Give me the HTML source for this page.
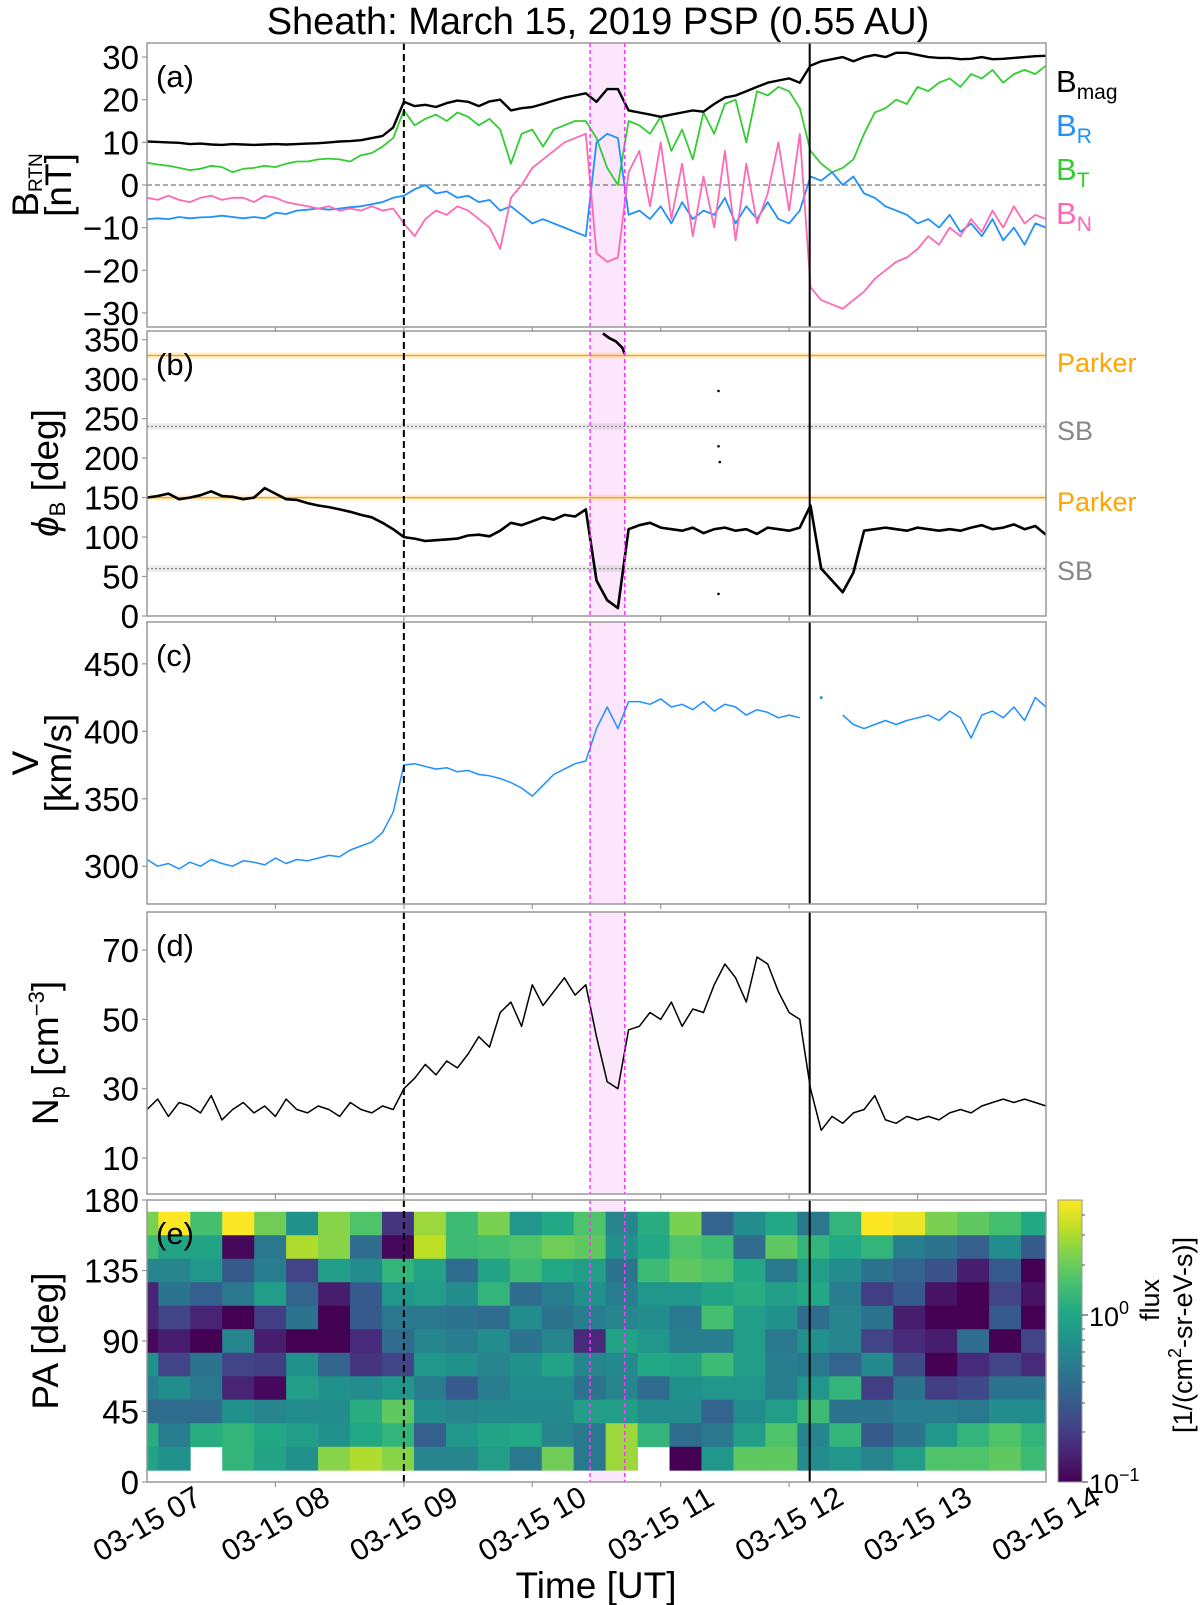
<!DOCTYPE html>
<html><head><meta charset="utf-8"><title>Sheath March 15 2019 PSP</title>
<style>
html,body{margin:0;padding:0;background:#fff;}
svg{display:block;font-family:"Liberation Sans","DejaVu Sans",sans-serif;}
</style></head>
<body>
<svg id="fig" width="1200" height="1605" viewBox="0 0 1200 1605" xmlns="http://www.w3.org/2000/svg">
<text x="598" y="34" font-size="38" text-anchor="middle">Sheath: March 15, 2019 PSP (0.55 AU)</text>
</svg>
<script>
// ---- data (time in hours after 03-15 07:00, 5-min samples) ----
const bmag = [10.2,10.1,10.0,9.9,9.6,9.7,9.5,9.4,9.6,9.5,9.4,9.5,9.6,9.5,9.6,9.7,9.8,10.0,10.2,10.3,10.5,11.0,11.5,13.5,
 19.5,18.5,18.8,18.3,19.2,19.8,19.5,18.5,19.6,20.0,17.5,18.0,18.3,19.0,19.8,20.5,21.0,21.5,19.5,22.5,22.5,17.5,
 17.0,16.5,16.0,16.5,17.0,17.5,17.2,19.0,20.5,21.0,22.0,23.0,24.0,24.5,25.0,24.0,28.0,
 29,29.5,30,29,30,30.5,30,31,31,30.5,30,29.8,29.8,29.5,29.6,30,29.5,29.6,29.8,30,30.2,30.3];
const bt = [5.2,4.8,4.5,4.0,3.5,3.8,4.5,4.2,3.0,3.8,4.0,4.5,4.2,5.0,5.5,5.5,6.0,6.2,6.0,5.5,7.0,7.5,9.0,11.0,
 17.5,14,15.5,16.5,15,17,16,14,15.5,13,5,12,13,9,13,14,15,15,11,4,0,15,
 14,12,16,8,13,6,17,12,19,20,10,22,21,23,22,18,8,
 5,3,4,6,12,17,18,20,19,23,22,24,25,23,26,25,27,24,26,27,26,28];
const br = [-8,-7.8,-8,-7.5,-7.8,-7.6,-7.5,-7.2,-7.5,-7.8,-7.5,-7.8,-6.5,-6.8,-6,-5.8,-5.5,-5.8,-5.5,-5.2,-5,-4.5,-4,-3,
 -2.5,-1,0,-2,-1.5,-3,-2.5,-4,-3.5,-6,-5,-7,-9,-8,-9,-10,-11,-12,10,12,11,-7,
 -6,-8,-5,-9,-4,-8,-6,-7,-3,-9,-5,-8,-4,-8,-9,-6,2,
 1,3,0,2,-2,-3,-5,-6,-7,-9,-8,-10,-7,-11,-9,-12,-8,-13,-10,-14,-9,-10];
const bn = [-3,-3.5,-2.5,-3.5,-4,-3,-2.5,-3.5,-3,-3,-4,-2.5,-3,-4,-4.5,-5,-5.5,-5,-6,-5.5,-6,-5,-6,-5.5,
 -9,-12,-8,-6,-7,-5,-6,-8,-10,-15,-3,0,4,6,8,10,11,12,-16,-18,-17,3,
 8,-5,10,-8,5,-12,2,-10,8,-13,5,-9,-2,10,-6,12,-24,
 -27,-28,-29,-27,-25,-22,-20,-18,-17,-15,-12,-14,-10,-12,-8,-11,-6,-10,-5,-9,-7,-8];
const phi = [150,152,155,148,150,153,158,152,151,148,150,162,155,148,147,143,140,138,135,132,128,125,118,110,
 100,98,95,96,97,98,102,103,101,108,118,115,120,125,122,128,126,135,45,20,10,110,
 115,118,112,110,108,112,105,110,112,108,110,104,112,110,108,112,140,
 60,45,30,55,108,110,112,110,108,112,110,108,110,108,112,115,110,112,116,110,114,103];
const phiHighT = [3.55,3.6,3.65,3.7,3.72];
const phiHigh = [358,352,348,340,332];
const phiDotT = [4.45,4.45,4.46,4.45];
const phiDot = [285,215,195,28];
const vel = [305,300,302,298,303,300,305,302,300,304,303,301,306,302,305,304,306,308,307,312,315,318,325,340,
 375,376,374,372,373,370,371,368,367,365,362,358,352,360,368,372,376,378,402,418,402,422,
 422,420,424,418,420,416,422,415,420,418,412,416,414,410,412,410,null,
 425,null,412,405,402,405,408,405,408,410,412,408,415,410,395,412,415,410,418,408,425,418];
const np = [24,27,22,26,25,23,28,21,24,26,23,25,22,27,24,23,25,24,22,26,24,23,25,24,
 30,33,37,34,38,36,40,45,42,52,55,48,60,54,58,62,57,60,45,32,30,47,
 48,52,50,55,48,53,52,60,66,62,55,68,66,58,52,50,30,
 18,22,20,23,24,28,21,20,22,21,22,21,23,24,23,25,26,27,26,27,26,25];
// normalized log-flux (0 = 1e-1, 1 = ~4.9), rows PA 165 -> 15, 29 time bins
const paBins = [165,150,135,120,105,90,75,60,45,30,15];
const fluxRows = [
 [.8,1,.7,1,.78,.5,.82,.72,.15,.85,.68,.8,.52,.6,.72,.45,.62,.8,.32,.48,.6,.4,.65,1,.97,.8,.75,.7,.6],
 [.68,.58,.58,.02,.4,.88,.82,.35,.02,.9,.68,.7,.72,.78,.75,.5,.6,.72,.68,.35,.75,.65,.6,.65,.42,.38,.3,.48,.28],
 [.45,.45,.52,.28,.42,.2,.55,.48,.65,.58,.35,.58,.68,.6,.55,.38,.68,.75,.72,.6,.4,.55,.48,.38,.32,.25,.08,.28,0],
 [.1,.38,.3,.4,.55,.32,.08,.28,.52,.55,.48,.65,.35,.42,.5,.42,.52,.52,.58,.62,.55,.6,.42,.18,.28,.05,0,.2,.05],
 [.1,.2,.1,0,.18,.38,0,.28,.4,.4,.38,.35,.48,.38,.42,.45,.48,.4,.7,.55,.5,.35,.45,.38,.08,0,0,.28,0],
 [.02,.08,0,.45,.08,0,0,.12,.35,.45,.42,.48,.38,.45,.12,.58,.52,.42,.42,.55,.4,.5,.45,.2,.12,.08,.35,0,.2],
 [.5,.2,.38,.2,.18,.5,.32,.15,.2,.52,.5,.45,.5,.58,.45,.47,.6,.58,.68,.55,.42,.4,.32,.47,.22,0,.12,.2,.12],
 [.42,.48,.4,.1,.02,.55,.5,.48,.52,.42,.28,.42,.48,.48,.38,.45,.35,.5,.52,.52,.42,.52,.65,.18,.38,.18,.22,.38,.38],
 [.35,.35,.35,.5,.45,.48,.48,.62,.75,.48,.45,.47,.47,.47,.55,.55,.48,.48,.32,.48,.55,.68,.38,.38,.42,.42,.4,.48,.48],
 [.62,.42,.62,.65,.6,.55,.5,.6,.65,.3,.52,.58,.6,.45,.4,.85,.65,.35,.4,.55,.72,.45,.65,.28,.38,.52,.65,.72,.65],
 [.58,.5,null,.65,.58,.5,.82,.88,.82,.45,.45,.55,.4,.78,.4,.85,null,0,.52,.75,.75,.48,.52,.45,.55,.72,.72,.75,.68]
];
const hourLabels = ["03-15 07","03-15 08","03-15 09","03-15 10","03-15 11","03-15 12","03-15 13","03-15 14"];
const shockT = 2.0, magStart = 3.45, magEnd = 3.72, solidT = 5.16;

// ---- layout ----
const NS="http://www.w3.org/2000/svg";
const svg=document.getElementById('fig');
const L=147,R=1046,HOUR=(R-L)/7;
const X=t=>L+t*HOUR;
const DT=1/12;
function el(tag,attrs,parent){const e=document.createElementNS(NS,tag);for(const k in attrs)e.setAttribute(k,attrs[k]);(parent||svg).appendChild(e);return e;}
const viridis=['#440154','#482475','#414487','#355f8d','#2a788e','#21918c','#22a884','#44bf70','#7ad151','#bddf26','#fde725'];
function vcol(v){v=Math.max(0,Math.min(1,v));const p=v*10,i=Math.min(9,Math.floor(p)),f=p-i;
 const a=viridis[i],b=viridis[i+1];const c=k=>Math.round(parseInt(a.substr(k,2),16)*(1-f)+parseInt(b.substr(k,2),16)*f);
 return `rgb(${c(1)},${c(3)},${c(5)})`;}

const panels=[
 {id:'a',top:43,bot:327,y0:-33.3,y1:33.3,ticks:[-30,-20,-10,0,10,20,30]},
 {id:'b',top:331,bot:616,y0:0,y1:361,ticks:[0,50,100,150,200,250,300,350]},
 {id:'c',top:622,bot:904,y0:272,y1:481,ticks:[300,350,400,450]},
 {id:'d',top:912,bot:1194,y0:-0.4,y1:81,ticks:[10,30,50,70]},
 {id:'e',top:1200,bot:1482,y0:0,y1:180,ticks:[0,45,90,135,180]}
];
panels.forEach(p=>{p.Y=v=>p.bot-(v-p.y0)/(p.y1-p.y0)*(p.bot-p.top);});

function line(p,vals,color,w,name,t0){
 let pts=[];const segs=[];
 vals.forEach((v,i)=>{if(v===null){if(pts.length)segs.push(pts);pts=[];}else pts.push(X((t0||0)+i*DT).toFixed(1)+','+p.Y(v).toFixed(1));});
 if(pts.length)segs.push(pts);
 const g=el('g',{});
 
 
 segs.forEach(s=>{if(s.length===1){const [x,y]=s[0].split(',');el('circle',{cx:x,cy:y,r:1.5,fill:color},g);}
  else el('polyline',{points:s.join(' '),fill:'none',stroke:color,'stroke-width':w,'stroke-linejoin':'round'},g);});
}

panels.forEach(p=>{
 const g=el('g',{});
 
 
 el('rect',{x:X(magStart),y:p.top,width:X(magEnd)-X(magStart),height:p.bot-p.top,fill:'#fbe6fb'},g);
 p.g=g;
});

// panel e heatmap
(function(){
 const p=panels[4];
 const hm=el('g',{},p.g);
 
 
 const t0=0.088,dt=0.2488;
 fluxRows.forEach((row,r)=>{row.forEach((v,c)=>{
  if(v===null)return;
  let ta=c===0?0:t0+(c-1)*dt, tb=Math.min(7,t0+c*dt);
  if(c===row.length-1)tb=7;
  const pa=paBins[r];
  const cell=el('rect',{x:X(ta),y:p.Y(pa+7.5),width:X(tb)-X(ta)+0.4,height:p.Y(pa-7.5)-p.Y(pa+7.5)+0.4,fill:vcol(v)},hm);
  
  
 });});
})();

// reference lines panel a,b
(function(){
 const a=panels[0];
 el('line',{x1:L,x2:R,y1:a.Y(0),y2:a.Y(0),stroke:'#777','stroke-width':1.2,'stroke-dasharray':'5,3'},a.g);
 const b=panels[1];
 [330,150].forEach(v=>{el('rect',{x:L,y:b.Y(v+4),width:R-L,height:b.Y(v-4)-b.Y(v+4),fill:'#ffa500',opacity:0.15},b.g);
  el('line',{x1:L,x2:R,y1:b.Y(v),y2:b.Y(v),stroke:'#ffa500','stroke-width':1.5},b.g);});
 [240,60].forEach(v=>{el('rect',{x:L,y:b.Y(v+4),width:R-L,height:b.Y(v-4)-b.Y(v+4),fill:'#999',opacity:0.2},b.g);
  el('line',{x1:L,x2:R,y1:b.Y(v),y2:b.Y(v),stroke:'#888','stroke-width':1.2,'stroke-dasharray':'2,2'},b.g);});
})();

// series
line(panels[0],bt,'#32cd32',1.8,'bt-line');
line(panels[0],br,'#1e90ff',1.8,'br-line');
line(panels[0],bn,'#ff69b4',1.8,'bn-line');
line(panels[0],bmag,'#000',2.4,'bmag-line');
line(panels[1],phi,'#000',2.6,'phi-line');
(function(){const p=panels[1];
 const pts=phiHighT.map((t,i)=>X(t).toFixed(1)+','+p.Y(phiHigh[i]).toFixed(1)).join(' ');
 const pl=el('polyline',{points:pts,fill:'none',stroke:'#000','stroke-width':2.6},p.g);
 
 
 phiDotT.forEach((t,i)=>{const c=el('circle',{cx:X(t),cy:p.Y(phiDot[i]),r:1.3,fill:'#000'},p.g);
  
  });
})();
line(panels[2],vel,'#1e90ff',1.5,'velocity-line');
line(panels[3],np,'#000',1.5,'density-line');

// vertical markers and frames
panels.forEach(p=>{
 el('line',{x1:X(magStart),x2:X(magStart),y1:p.top,y2:p.bot,stroke:'#ff33ff','stroke-width':1.5,'stroke-dasharray':'4,3'});
 el('line',{x1:X(magEnd),x2:X(magEnd),y1:p.top,y2:p.bot,stroke:'#ff33ff','stroke-width':1.5,'stroke-dasharray':'4,3'});
 const d=el('line',{x1:X(shockT),x2:X(shockT),y1:p.top,y2:p.bot,stroke:'#000','stroke-width':2,'stroke-dasharray':'7,4'});
 
 
 const s=el('line',{x1:X(solidT),x2:X(solidT),y1:p.top,y2:p.bot,stroke:'#000','stroke-width':2});
 
 
 const fr=el('rect',{x:L,y:p.top,width:R-L,height:p.bot-p.top,fill:'none',stroke:'#999','stroke-width':1.5});
 
 
 p.ticks.forEach(v=>{const y=p.Y(v);
  el('line',{x1:L-5,x2:L,y1:y,y2:y,stroke:'#999','stroke-width':1.2});
  const t=el('text',{x:L-8,y:y+12,'font-size':33,'text-anchor':'end'});
  t.textContent=(v<0?'\u2212'+(-v):v);
  
  });
 for(let h=1;h<7;h++){el('line',{x1:X(h),x2:X(h),y1:p.bot,y2:p.bot+5,stroke:'#999','stroke-width':1.2});}
 const lab=el('text',{x:156,y:p.top+44,'font-size':31});
 lab.textContent='('+p.id+')';
 
 
});

// x tick labels
hourLabels.forEach((s,h)=>{
 const t=el('text',{x:X(h),y:1534,'font-size':30,'text-anchor':'middle',transform:`rotate(-30 ${X(h)} 1524)`});
 t.textContent=s;
 
 
});
</script>
<script>
(function(){
const svg=document.getElementById('fig');
function add(html){svg.insertAdjacentHTML('beforeend',html);}
add(`<text x="596" y="1598" font-size="37" text-anchor="middle">Time [UT]</text>`);
add(`<g font-size="37" text-anchor="middle">
<text transform="translate(38 185) rotate(-90)">B<tspan font-size="19" dy="4">RTN</tspan></text>
<text transform="translate(71 185) rotate(-90)">[nT]</text></g>`);
add(`<text transform="translate(58 473) rotate(-90)" font-size="37" text-anchor="middle"><tspan font-style="italic">ϕ</tspan><tspan font-size="22" dy="7">B</tspan><tspan dy="-7"> [deg]</tspan></text>`);
add(`<g font-size="37" text-anchor="middle">
<text transform="translate(38 763) rotate(-90)">V</text>
<text transform="translate(71 763) rotate(-90)">[km/s]</text></g>`);
add(`<text transform="translate(58 1053) rotate(-90)" font-size="37" text-anchor="middle">N<tspan font-size="22" dy="7">p</tspan><tspan dy="-7"> [cm</tspan><tspan font-size="22" dy="-14">−3</tspan><tspan dy="14">]</tspan></text>`);
add(`<text transform="translate(58 1341) rotate(-90)" font-size="37" text-anchor="middle">PA [deg]</text>`);
add(`<g font-size="31">
<text x="1056" y="92" fill="#000">B<tspan font-size="21" dy="7">mag</tspan></text>
<text x="1056" y="136" fill="#1e90ff">B<tspan font-size="21" dy="7">R</tspan></text>
<text x="1056" y="180" fill="#32cd32">B<tspan font-size="21" dy="7">T</tspan></text>
<text x="1056" y="224" fill="#ff69b4">B<tspan font-size="21" dy="7">N</tspan></text></g>`);
add(`<g font-size="27">
<text x="1057" y="372" fill="#ffa500">Parker</text>
<text x="1057" y="440" fill="#888">SB</text>
<text x="1057" y="511" fill="#ffa500">Parker</text>
<text x="1057" y="580" fill="#888">SB</text></g>`);
const stops=['#440154','#482475','#414487','#355f8d','#2a788e','#21918c','#22a884','#44bf70','#7ad151','#bddf26','#fde725'];
add('<defs><linearGradient id="vir" x1="0" y1="1" x2="0" y2="0">'+stops.map((c,i)=>`<stop offset="${i/10}" stop-color="${c}"/>`).join('')+'</linearGradient></defs>');
add(`<g>
<rect x="1058" y="1200" width="24" height="282" fill="url(#vir)" stroke="#999" stroke-width="1"/>
<line x1="1082" x2="1088" y1="1315" y2="1315" stroke="#555" stroke-width="1.2"/>
<line x1="1082" x2="1088" y1="1482" y2="1482" stroke="#555" stroke-width="1.2"/>
<text x="1089" y="1326" font-size="27">10<tspan font-size="18" dy="-12">0</tspan></text>
<text x="1089" y="1493" font-size="27">10<tspan font-size="18" dy="-12">−1</tspan></text>
<text transform="translate(1159 1300) rotate(-90)" font-size="27" text-anchor="middle">flux</text>
<text transform="translate(1192 1335) rotate(-90)" font-size="27" text-anchor="middle">[1/(cm<tspan font-size="18" dy="-11">2</tspan><tspan dy="11">-sr-eV-s)]</tspan></text></g>`);
[1265,1235,1215].forEach(y=>add(`<line x1="1082" x2="1085" y1="${y}" y2="${y}" stroke="#555"/>`));
[1432,1403,1382,1366,1352,1340,1329].forEach(y=>add(`<line x1="1082" x2="1085" y1="${y}" y2="${y}" stroke="#555"/>`));
})();
</script>
</body></html>
